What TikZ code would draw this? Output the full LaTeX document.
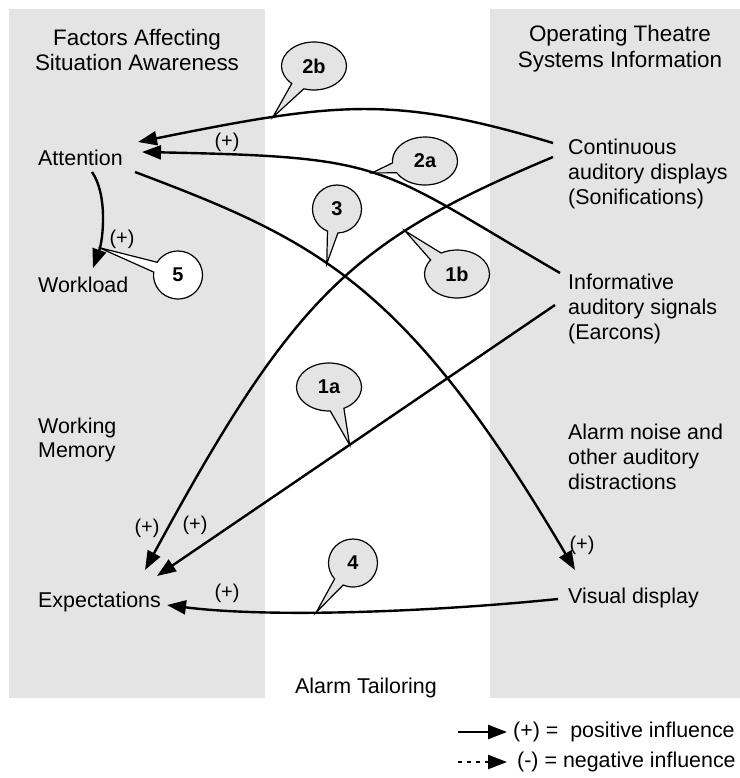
\documentclass[tikz,border=0pt]{standalone}
\usepackage{fontspec}
\setmainfont{Liberation Sans}
\usetikzlibrary{arrows.meta, shapes.callouts, positioning}
\definecolor{panelgray}{HTML}{E4E4E4}

\begin{document}
\begin{tikzpicture}[x=1bp, y=-1bp,
        head/.style={align=center, inner sep=0pt, font=\fontsize{22.5}{26}\selectfont},
        item/.style={anchor=west, align=left, inner sep=0pt, font=\fontsize{21.5}{25}\selectfont},
        arrow/.style={-{Triangle[length=19bp, width=14bp]}, line width=2.4bp},
        lab/.style={inner sep=0pt, font=\fontsize{20}{24}\selectfont},
        bubble/.style={ellipse callout, draw, line width=1.2bp, fill=panelgray, inner sep=0pt, callout pointer arc=25, minimum width=65bp, minimum height=48bp, font=\fontsize{20}{24}\selectfont\bfseries},
        roundbubble/.style={bubble, minimum width=49bp, minimum height=48bp}
    ]
    \useasboundingbox (0,0) rectangle (740,778);

    % two grey columns
    \fill[panelgray] (9,9) rectangle (265,698);
    \fill[panelgray] (490,9) rectangle (740,698);

    % column heads and items
    \node (fac)    [head] at (137,50)  {Factors Affecting\\Situation Awareness};
    \node (ots)    [head] at (620,49)  {Operating Theatre\\Systems Information};
    \node (att)    [item] at (38,158)  {Attention};
    \node (work)   [item] at (38,285)  {Workload};
    \node (wmem)   [item] at (38,440)  {Working\\Memory};
    \node (expect) [item] at (38,602)  {Expectations};
    \node (cont)   [item] at (568,174) {Continuous\\auditory displays\\(Sonifications)};
    \node (inf)    [item] at (568,309) {Informative\\auditory signals\\(Earcons)};
    \node (noise)  [item] at (568,457) {Alarm noise and\\other auditory\\distractions};
    \node (vis)    [item] at (568,598) {Visual display};
    \node (tailor) [item, anchor=center] at (366,688) {Alarm Tailoring};

    % influences, each with a point for its bubble
    \draw [arrow] ([shift={(-15,-31)}]cont.west) .. controls +(-160,-48) and +(199,-40) .. ([shift={(100,-16)}]att.west) coordinate[pos=0.73] (on2b);
    \draw [arrow] ([shift={(-8,-36)}]inf.west) .. controls +(-186,-108) and +(250,5) .. ([shift={(104,-6)}]att.west) coordinate[pos=0.51] (on2a);
    \draw [arrow] ([shift={(97,14)}]att.west) .. controls +(180,68) and +(-170,-289) .. ([shift={(7,-28)}]vis.west) coordinate[pos=0.42] (on3);
    \draw [arrow] ([shift={(-15,-17)}]cont.west) .. controls +(-200,84) and +(150,-277) .. ([shift={(107,-32)}]expect.west) coordinate[pos=0.3] (on1b);
    \draw [arrow] ([shift={(-13,-4)}]inf.west) -- ([shift={(119,-26)}]expect.west) coordinate[pos=0.516] (on1a);
    \draw [arrow] ([shift={(-10,1)}]vis.west) .. controls +(-128,13) and +(103,13) .. ([shift={(129,3)}]expect.west) coordinate[pos=0.59] (on4);
    \draw [arrow] ([shift={(54,14)}]att.west) .. controls +(16,23) and +(10,-28) .. ([shift={(55,-17)}]work.west) coordinate[pos=0.78] (on5);

    % signs
    \node (pl2) [lab] at (227,142) {(+)};
    \node (pl5) [lab] at (122,239) {(+)};
    \node (pl3) [lab] at (147,528) {(+)};
    \node (pl1) [lab] at (195,525) {(+)};
    \node (pl4) [lab] at (227,593) {(+)};
    \node (plv) [lab] at (582,545) {(+)};

    % bubbles
    \node (b2b) [bubble, callout absolute pointer={(on2b)}] at (314,66) {2b};
    \node (b2a) [bubble, callout absolute pointer={(on2a)}] at (425,161) {2a};
    \node (b3)  [roundbubble, callout absolute pointer={(on3)}] at (337,209) {3};
    \node (b1b) [bubble, callout absolute pointer={(on1b)}] at (457,274) {1b};
    \node (b1a) [bubble, callout absolute pointer={(on1a)}] at (329,387) {1a};
    \node (b4)  [roundbubble, callout absolute pointer={(on4)}] at (353,563) {4};
    \node (b5)  [roundbubble, fill=white, callout absolute pointer={(on5)}] at (178,275) {5};

    % legend
    \node (legpos) [item] at (513,732) {(+) =\ \ positive influence};
    \node (legneg) [item] at (517,762) {(-) = negative influence};
    \coordinate (legpos-from) at ([shift={(-55,0)}]legpos.west);
    \coordinate (legneg-from) at ([shift={(-59,0)}]legneg.west);
    \draw [arrow] (legpos-from) -- ([shift={(-6,0)}]legpos.west);
    \draw [arrow, dash pattern=on 4bp off 5bp] (legneg-from) -- ([shift={(-10,0)}]legneg.west);

\end{tikzpicture}
\end{document}
